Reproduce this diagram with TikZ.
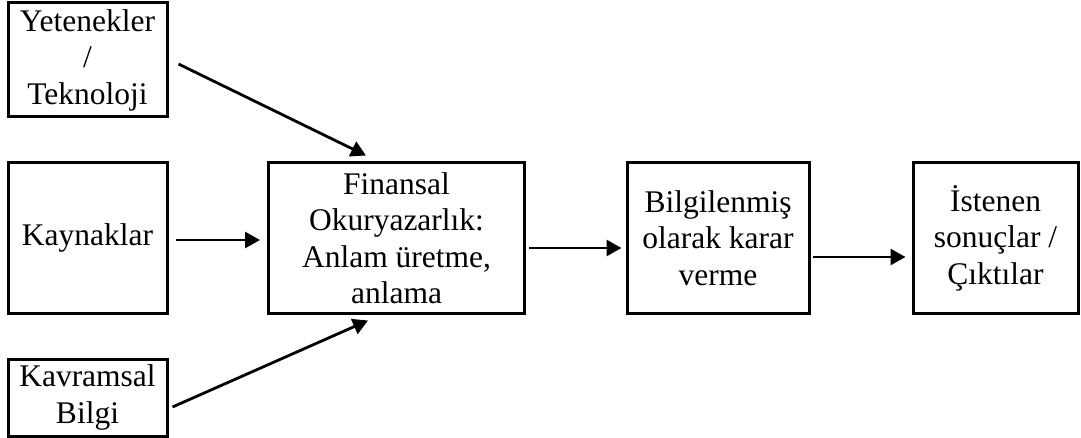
\documentclass[tikz,border=0pt]{standalone}
\usepackage{fontspec}
\setmainfont{Liberation Serif}
\usetikzlibrary{arrows.meta,calc}
\begin{document}
\begin{tikzpicture}[x=1pt,y=-1pt,
  box/.style={draw,line width=3pt,inner sep=0pt,align=center,
    font=\fontsize{31.5}{36.5}\selectfont},
  arr/.style={line width=2.8pt,-{Triangle[length=15pt,width=16pt]}}]
\useasboundingbox (0,0) rectangle (1081,438);
\node[box,minimum width=159pt,minimum height=114pt] (Y) at (87.5,60) {Yetenekler\\/\\Teknoloji};
\node[box,minimum width=159pt,minimum height=150pt] (K) at (87.5,238) {Kaynaklar};
\node[box,minimum width=159pt,minimum height=77pt] (KB) at (87.5,397.5) {Kavramsal\\Bilgi};
\node[box,minimum width=256pt,minimum height=150pt] (F) at (396.5,238) {Finansal\\Okuryazarlık:\\Anlam üretme,\\anlama};
\node[box,minimum width=182pt,minimum height=150pt] (B) at (718,238) {Bilgilenmiş\\olarak karar\\verme};
\node[box,minimum width=165pt,minimum height=150pt] (I) at (995.5,238) {İstenen\\sonuçlar /\\Çıktılar};
\draw[arr] ($(Y.east)+(10,4)$) -- ($(F.north)+(-30.5,-6)$);
\draw[arr] ($(K.east)+(7,2)$) -- ($(F.west)+(-7,2)$);
\draw[arr] ($(KB.east)+(4,9.5)$) -- ($(F.south)+(-28.5,6)$);
\draw[arr] ($(F.east)+(3,10)$) -- ($(B.west)+(-4,10)$);
\draw[arr] ($(B.east)+(2,19)$) -- ($(I.west)+(-6,19)$);
\end{tikzpicture}
\end{document}
